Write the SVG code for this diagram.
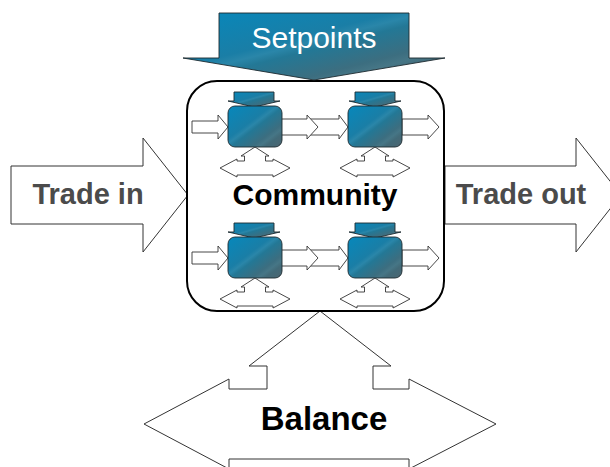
<svg xmlns="http://www.w3.org/2000/svg" xmlns:xlink="http://www.w3.org/1999/xlink" width="610" height="467" viewBox="0 0 610 467">
  <defs>
    <linearGradient id="steel" x1="0" y1="0" x2="1" y2="1">
      <stop offset="0" stop-color="#0688bc"/>
      <stop offset="0.4" stop-color="#1a7ea6"/>
      <stop offset="0.46" stop-color="#2a86a9"/>
      <stop offset="0.52" stop-color="#237896"/>
      <stop offset="0.72" stop-color="#3c6e80"/>
      <stop offset="0.78" stop-color="#467686"/>
      <stop offset="0.84" stop-color="#426a78"/>
      <stop offset="1" stop-color="#4c6570"/>
    </linearGradient>
    <!-- small setpoint arrow sitting on each unit, origin at top centre -->
    <path id="hat" d="M-20,0 H20 V9 H26 L0,15 L-26,9 H-20 Z"/>
    <!-- small up/left/right arrow under each unit, origin at top tip -->
    <path id="bal-small" d="M0,0 L14,9 L10.5,9 L10.5,14 L18,14 L18,12 L35,21 L18,30 L18,28 L-18,28 L-18,30 L-35,21 L-18,12 L-18,14 L-10.5,14 L-10.5,9 L-14,9 Z"/>
    <!-- thin inflow arrow, origin at tip -->
    <path id="in-arrow" d="M-36,-6 H-10 V-12 L0,0 L-10,12 V6 H-36 Z"/>
    <!-- outflow arrow, origin at tail centre -->
    <path id="out-arrow" d="M0,-8 H26 V-12 L37,0 L26,12 V8 H0 Z"/>
  </defs>
  <style>
    .outline { fill: #ffffff; stroke: #333333; stroke-width: 1; stroke-linejoin: miter; }
    .small { fill: #ffffff; stroke: #333333; stroke-width: 0.9; }
    .steel { fill: url(#steel); stroke: #1e2a30; stroke-width: 0.9; }
    .box { fill: #ffffff; stroke: #000000; stroke-width: 2; }
    .big { font-family: "Liberation Sans", Arial, sans-serif; font-weight: bold; text-anchor: middle; }
    .trade { fill: #4b4b4b; font-size: 29px; }
  </style>

  <rect width="610" height="467" fill="#ffffff"/>

  <!-- large flows around the community -->
  <g id="trade-in">
    <path class="outline" d="M11,166 H143 V138 L188,195 L143,252 V224 H11 Z"/>
    <text class="big trade" x="88" y="204">Trade in</text>
  </g>
  <g id="trade-out">
    <path class="outline" d="M445,166 H576 V138 L621,195 L576,252 V224 H445 Z"/>
    <text class="big trade" x="521" y="204">Trade out</text>
  </g>
  <g id="balance">
    <path class="outline" d="M144,424 L229,379 V389 H267 V366 H249 L320,311 L391,366 H373 V389 H409 V379 L496,424 L409,469 V459 H229 V469 Z"/>
    <text class="big" x="324" y="430" font-size="33" fill="#000000">Balance</text>
  </g>

  <!-- community boundary -->
  <g id="community">
    <rect class="box" x="187" y="81" width="257" height="230" rx="30" ry="30"/>
    <text class="big" x="315" y="205" font-size="30" fill="#000000">Community</text>
  </g>

  <g id="setpoints">
    <path class="steel" d="M219,13 H409 V58 H445 L314,80 L183,58 H219 Z" stroke-width="1"/>
    <text x="314" y="48" font-family="'Liberation Sans', Arial, sans-serif" font-size="30" fill="#ffffff" text-anchor="middle">Setpoints</text>
  </g>

  <!-- flows between units -->
  <g id="connectors">
    <use href="#in-arrow" class="small" x="228" y="127"/>
    <use href="#in-arrow" class="small" x="228" y="258"/>
    <path class="small" d="M310,119 H339 V115 L348,127 L339,139 V135 H310 Z"/>
    <path class="small" d="M310,250 H339 V246 L348,258 L339,270 V266 H310 Z"/>
    <use href="#out-arrow" class="small" x="281" y="127"/>
    <use href="#out-arrow" class="small" x="281" y="258"/>
    <use href="#out-arrow" class="small" x="402" y="127"/>
    <use href="#out-arrow" class="small" x="402" y="258"/>
    <use href="#bal-small" class="small" x="255" y="147"/>
    <use href="#bal-small" class="small" x="375" y="147"/>
    <use href="#bal-small" class="small" x="255" y="278"/>
    <use href="#bal-small" class="small" x="375" y="278"/>
  </g>

  <!-- units -->
  <g id="unit-1">
    <use href="#hat" class="steel" x="254" y="92"/>
    <rect class="steel" x="228" y="106" width="54" height="41" rx="7"/>
  </g>
  <g id="unit-2">
    <use href="#hat" class="steel" x="375" y="92"/>
    <rect class="steel" x="348" y="106" width="54" height="41" rx="7"/>
  </g>
  <g id="unit-3">
    <use href="#hat" class="steel" x="254" y="223"/>
    <rect class="steel" x="228" y="237" width="54" height="41" rx="7"/>
  </g>
  <g id="unit-4">
    <use href="#hat" class="steel" x="375" y="223"/>
    <rect class="steel" x="348" y="237" width="54" height="41" rx="7"/>
  </g>
</svg>
